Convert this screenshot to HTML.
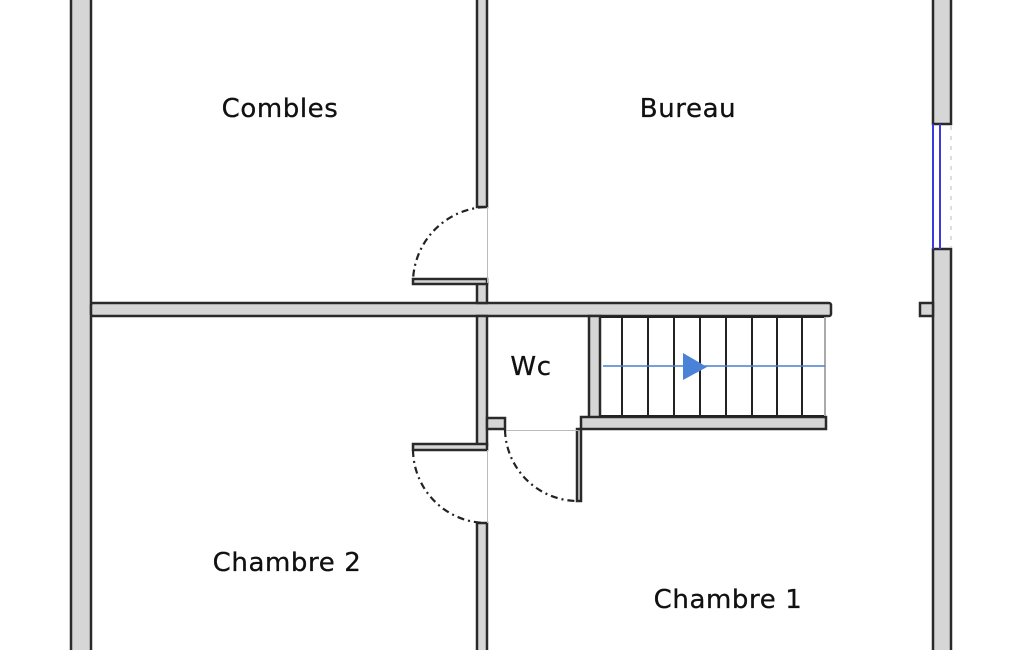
<!DOCTYPE html>
<html><head><meta charset="utf-8"><style>
html,body{margin:0;padding:0;background:#fff;width:1025px;height:650px;overflow:hidden}
text{font-family:"DejaVu Sans","Liberation Sans",sans-serif;font-size:26px;letter-spacing:0.6px;fill:#111;stroke:#111;stroke-width:0.3px}
</style></head><body>
<svg width="1025" height="650" viewBox="0 0 1025 650" xmlns="http://www.w3.org/2000/svg">
<g fill="#d6d6d6" stroke="#2a2a2a" stroke-width="2.5">
<rect x="71" y="-5" width="20" height="665"/>
<rect x="933" y="-5" width="18" height="129"/>
<rect x="933" y="249" width="18" height="410"/>
<rect x="920" y="303" width="13" height="13"/>
<rect x="91" y="303" width="740" height="13" rx="2"/>
<rect x="477" y="-5" width="10" height="212"/>
<rect x="477" y="283" width="10" height="20"/>
<rect x="413" y="279" width="74" height="5"/>
<rect x="477" y="316" width="10" height="129"/>
<rect x="487" y="418" width="18" height="11"/>
<rect x="413" y="444" width="74" height="6"/>
<rect x="477" y="523" width="10" height="135"/>
<rect x="589" y="316" width="11" height="102"/>
<rect x="581" y="417" width="245" height="12"/>
<rect x="577" y="429" width="4" height="72"/>
</g>
<g stroke="#bbb" stroke-width="1">
<line x1="487.5" y1="207" x2="487.5" y2="283"/>
<line x1="487.5" y1="450" x2="487.5" y2="523"/>
<line x1="505" y1="430.5" x2="578" y2="430.5"/>
</g>
<g fill="none" stroke="#222" stroke-width="2.2" stroke-dasharray="7,4,2,4">
<path d="M485 207 A76 76 0 0 0 413 281"/>
<path d="M413 450 A74 74 0 0 0 485 523"/>
<path d="M505 430 A73 73 0 0 0 578 501"/>
</g>
<g stroke="#222" stroke-width="2">
<line x1="601" y1="317" x2="825" y2="317"/>
<line x1="601" y1="416" x2="825" y2="416"/>
<line x1="622" y1="317" x2="622" y2="416"/>
<line x1="648" y1="317" x2="648" y2="416"/>
<line x1="674" y1="317" x2="674" y2="416"/>
<line x1="700" y1="317" x2="700" y2="416"/>
<line x1="726" y1="317" x2="726" y2="416"/>
<line x1="752" y1="317" x2="752" y2="416"/>
<line x1="777" y1="317" x2="777" y2="416"/>
<line x1="802" y1="317" x2="802" y2="416"/>
</g>
<line x1="825" y1="317" x2="825" y2="416" stroke="#aaa" stroke-width="2"/>
<line x1="603" y1="366" x2="825" y2="366" stroke="#4a7fd0" stroke-width="1.5"/>
<polygon points="683,353 707,367 683,380" fill="#4a82d8"/>
<g stroke="#3a3ae0" stroke-width="2">
<line x1="933" y1="124" x2="933" y2="249"/>
<line x1="940" y1="124" x2="940" y2="249"/>
</g>
<line x1="951" y1="126" x2="951" y2="247" stroke="#bbb" stroke-width="1" stroke-dasharray="4,6"/>
<text x="280" y="117" text-anchor="middle">Combles</text>
<text x="688" y="117" text-anchor="middle">Bureau</text>
<text x="531" y="375" text-anchor="middle">Wc</text>
<text x="287" y="571" text-anchor="middle">Chambre 2</text>
<text x="728" y="608" text-anchor="middle">Chambre 1</text>
</svg>
</body></html>
